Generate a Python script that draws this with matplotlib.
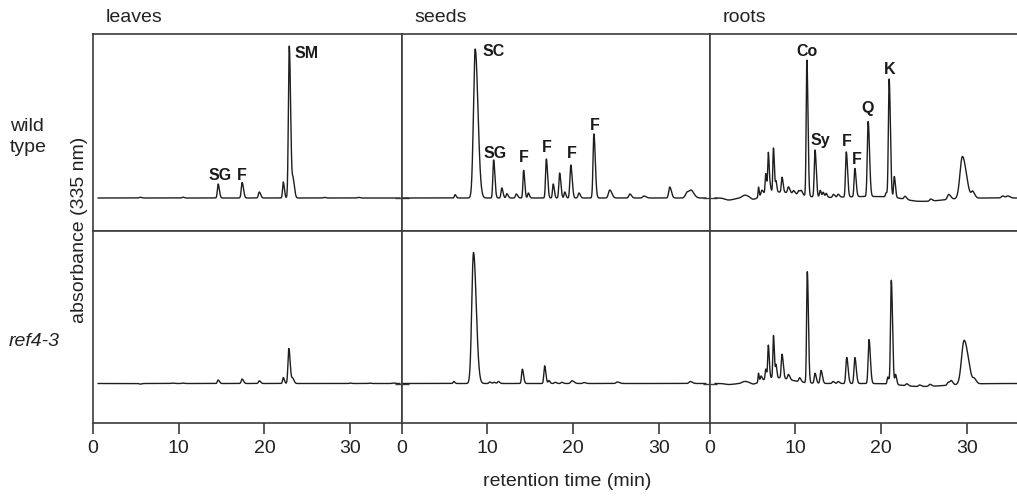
import numpy as np
import matplotlib.pyplot as plt

plt.rcParams['font.family'] = ['Liberation Sans', 'DejaVu Sans']

# peak tables: retention time (min), height (a.u.), width (min)
leaves_wt_t = [5.5, 10.5, 14.6, 17.4, 19.4, 22.2, 22.9, 23.35, 27.0, 31.0]
leaves_wt_h = [0.7, 0.8, 14, 15.5, 6, 16, 152, 18, 0.6, 0.6]
leaves_wt_w = [0.1, 0.1, 0.09, 0.1, 0.1, 0.08, 0.1, 0.1, 0.1, 0.1]

leaves_mut_t = [5.5, 9.2, 10.5, 14.6, 17.4, 19.4, 22.2, 22.85, 23.3, 30.0, 32.3, 35.0]
leaves_mut_h = [-0.6, 0.4, 0.4, 3.5, 4.5, 2.7, 6, 35, 5, 0.4, 0.4, 0.5]
leaves_mut_w = [0.1, 0.1, 0.1, 0.09, 0.1, 0.1, 0.08, 0.1, 0.1, 0.1, 0.1, 0.1]

seeds_wt_t = [6.25, 8.6, 10.75, 11.7, 12.3, 13.4, 14.25, 14.8, 16.9, 17.7, 18.45,
              19.05, 19.75, 20.7, 22.45, 24.3, 26.65, 28.3, 31.3, 33.35, 33.85]
seeds_wt_h = [3.3, 149, 38, 10, 4.3, 4, 27.7, 5, 39, 14, 25,
              6, 33, 5, 64, 8, 4, 2, 11, 6, 6]
seeds_wt_w = [0.08, 0.2, 0.09, 0.09, 0.09, 0.1, 0.08, 0.08, 0.09, 0.08, 0.09,
              0.08, 0.1, 0.1, 0.1, 0.15, 0.12, 0.15, 0.12, 0.2, 0.2]

seeds_mut_t = [6.1, 8.4, 10.3, 10.8, 11.3, 14.1, 16.7, 17.2, 17.9, 18.7, 19.9, 21.3, 25.2, 33.7]
seeds_mut_h = [2, 131, 1.5, 1.2, 2, 14.3, 17.7, 3, 1.2, 1.2, 2.7, 1, 1.5, 2]
seeds_mut_w = [0.08, 0.2, 0.1, 0.1, 0.1, 0.09, 0.09, 0.08, 0.1, 0.1, 0.15, 0.12, 0.15, 0.15]

roots_wt_t = [2.2, 4.1, 5.1, 5.7, 6.1, 6.55, 6.85, 7.1, 7.45, 7.75, 8.45, 9.2, 9.8,
              10.4, 10.7, 11.35, 12.3, 12.9, 13.25, 13.6, 14.45, 15.0, 15.95, 16.95,
              18.5, 20.6, 20.95, 21.55, 22.8, 24.5, 25.8, 27.9, 29.5, 30.7, 34.2, 34.8,
              7.5, 10.0, 18.5]
roots_wt_h = [-2, 2.7, -2.3, 10, 5, 20, 40, 4, 44, 10, 15, 6, 3,
              4, 4, 136, 47, 7, 5, 4, 3, 3, 45, 28.3,
              75, 4, 118, 21, 3, -4, 2, 5, 42, 6, 2, 2,
              6, 1.5, 1.5]
roots_wt_w = [0.4, 0.3, 0.3, 0.05, 0.1, 0.07, 0.07, 0.06, 0.07, 0.06, 0.08, 0.1, 0.1,
              0.1, 0.1, 0.08, 0.09, 0.08, 0.08, 0.08, 0.1, 0.1, 0.09, 0.09,
              0.1, 0.08, 0.09, 0.08, 0.12, 1.6, 0.12, 0.15, 0.28, 0.15, 0.15, 0.15,
              1.2, 1.0, 3.0]

roots_mut_t = [2.2, 4.1, 5.1, 5.7, 6.0, 6.55, 6.85, 7.45, 7.75, 8.45, 9.2, 10.5,
               11.4, 12.3, 13.0, 14.4, 15.0, 16.0, 16.95, 18.6, 20.8, 21.2, 21.7,
               23.0, 24.5, 25.7, 27.85, 28.2, 29.7, 30.9, 7.5, 24.5]
roots_mut_h = [-1, 2, -1.5, 9, 5, 10, 33, 42, 12, 24, 5, 4,
               111, 10, 13, 2, 2, 26, 26, 44, 7, 104, 10,
               2, 1.5, 2, 3, 4, 44, 4, 6, -3]
roots_mut_w = [0.4, 0.3, 0.3, 0.05, 0.08, 0.07, 0.07, 0.07, 0.06, 0.09, 0.1, 0.1,
               0.08, 0.09, 0.1, 0.1, 0.1, 0.1, 0.1, 0.1, 0.08, 0.09, 0.08,
               0.12, 0.12, 0.12, 0.12, 0.12, 0.3, 0.15, 1.2, 2.0]

# trace extent (min)
leaves_range = (0.6, 35.8)
seeds_range = (0.1, 35.5)
roots_range = (0.65, 36.5)

# peak labels: text, time, height
leaves_labels = [("SG", 14.85, 22), ("F", 17.4, 22), ("SM", 23.5, 145)]
seeds_labels = [("SC", 9.4, 146), ("SG", 10.95, 44), ("F", 14.3, 40),
                ("F", 17.0, 51), ("F", 19.85, 44), ("F", 22.5, 73)]
roots_labels = [("Co", 11.35, 146), ("Sy", 12.9, 58), ("F", 16.0, 56),
                ("F", 17.15, 38), ("Q", 18.4, 89), ("K", 21.05, 129)]

tissues = ["leaves", "seeds", "roots"]
x_ticks = [0, 10, 20, 30]


def trace(t0, h, w, rng, tail=1.6):
    t = np.linspace(rng[0], rng[1], 4000)
    y = np.zeros_like(t)
    for c, a, s in zip(t0, h, w):
        sig = np.where(t < c, s, s * tail)
        y += a * np.exp(-0.5 * ((t - c) / sig) ** 2)
    return t, y


W, H = 1017, 496
fig = plt.figure(figsize=(W / 100, H / 100), dpi=100)

col_edges = [93, 401.5, 709.6, 1017]
row_edges = [(34, 231), (231, 423)]
ylims = [(-33, 164), (-39.5, 152.5)]

data = [
    [(leaves_wt_t, leaves_wt_h, leaves_wt_w, leaves_range),
     (seeds_wt_t, seeds_wt_h, seeds_wt_w, seeds_range),
     (roots_wt_t, roots_wt_h, roots_wt_w, roots_range)],
    [(leaves_mut_t, leaves_mut_h, leaves_mut_w, leaves_range),
     (seeds_mut_t, seeds_mut_h, seeds_mut_w, seeds_range),
     (roots_mut_t, roots_mut_h, roots_mut_w, roots_range)],
]
labels = [leaves_labels, seeds_labels, roots_labels]

line_col = "#1e1e1e"
frame_col = "#3c3c3c"

for r in range(2):
    top, bot = row_edges[r]
    for c in range(3):
        x0, x1 = col_edges[c], col_edges[c + 1]
        ax = fig.add_axes([x0 / W, 1 - bot / H, (x1 - x0) / W, (bot - top) / H])
        t, y = trace(*data[r][c])
        ax.plot(t, y, color=line_col, lw=1.0)
        ax.set_xlim(0, (x1 - x0) / 8.57)
        ax.set_ylim(*ylims[r])
        for side, sp in ax.spines.items():
            sp.set_color(frame_col)
            sp.set_linewidth(1.2)
        if c == 2:
            ax.spines["right"].set_visible(False)
        if c > 0:
            ax.set_yticks([0])
            ax.tick_params(axis="y", direction="inout", length=10, width=1.0,
                           color=frame_col, labelleft=False)
        else:
            ax.set_yticks([])
        ax.set_xticks(x_ticks)
        if r == 1:
            ax.set_xticklabels([str(v) for v in x_ticks])
            ax.tick_params(axis="x", direction="out", length=8, width=1.2,
                           color=frame_col, labelsize=14, labelcolor="#222222", pad=4)
        else:
            ax.tick_params(axis="x", length=0, labelbottom=False)
        if r == 0:
            for txt, tx, ty in labels[c]:
                ha = "left" if txt in ("SM", "SC") else "center"
                ax.text(tx, ty, txt, ha=ha, va="center", fontsize=11.5,
                        fontweight="bold", color="#1a1a1a")
            fig.text((x0 + 13) / W, 1 - 17 / H, tissues[c], ha="left", va="center",
                     fontsize=14, color="#222222")

fig.text(10 / W, 1 - 137 / H, "wild\ntype", ha="left", va="center", fontsize=14,
         linespacing=1.3, color="#222222")
fig.text(9 / W, 1 - 341 / H, "ref4-3", ha="left", va="center", fontsize=14,
         style="italic", color="#222222")
fig.text(79 / W, 1 - 230 / H, "absorbance (335 nm)", rotation=90, ha="center",
         va="center", fontsize=14, color="#222222")
fig.text(567 / W, 1 - 482 / H, "retention time (min)", ha="center", va="center",
         fontsize=14, color="#222222")

fig.savefig("out.png", dpi=100)
